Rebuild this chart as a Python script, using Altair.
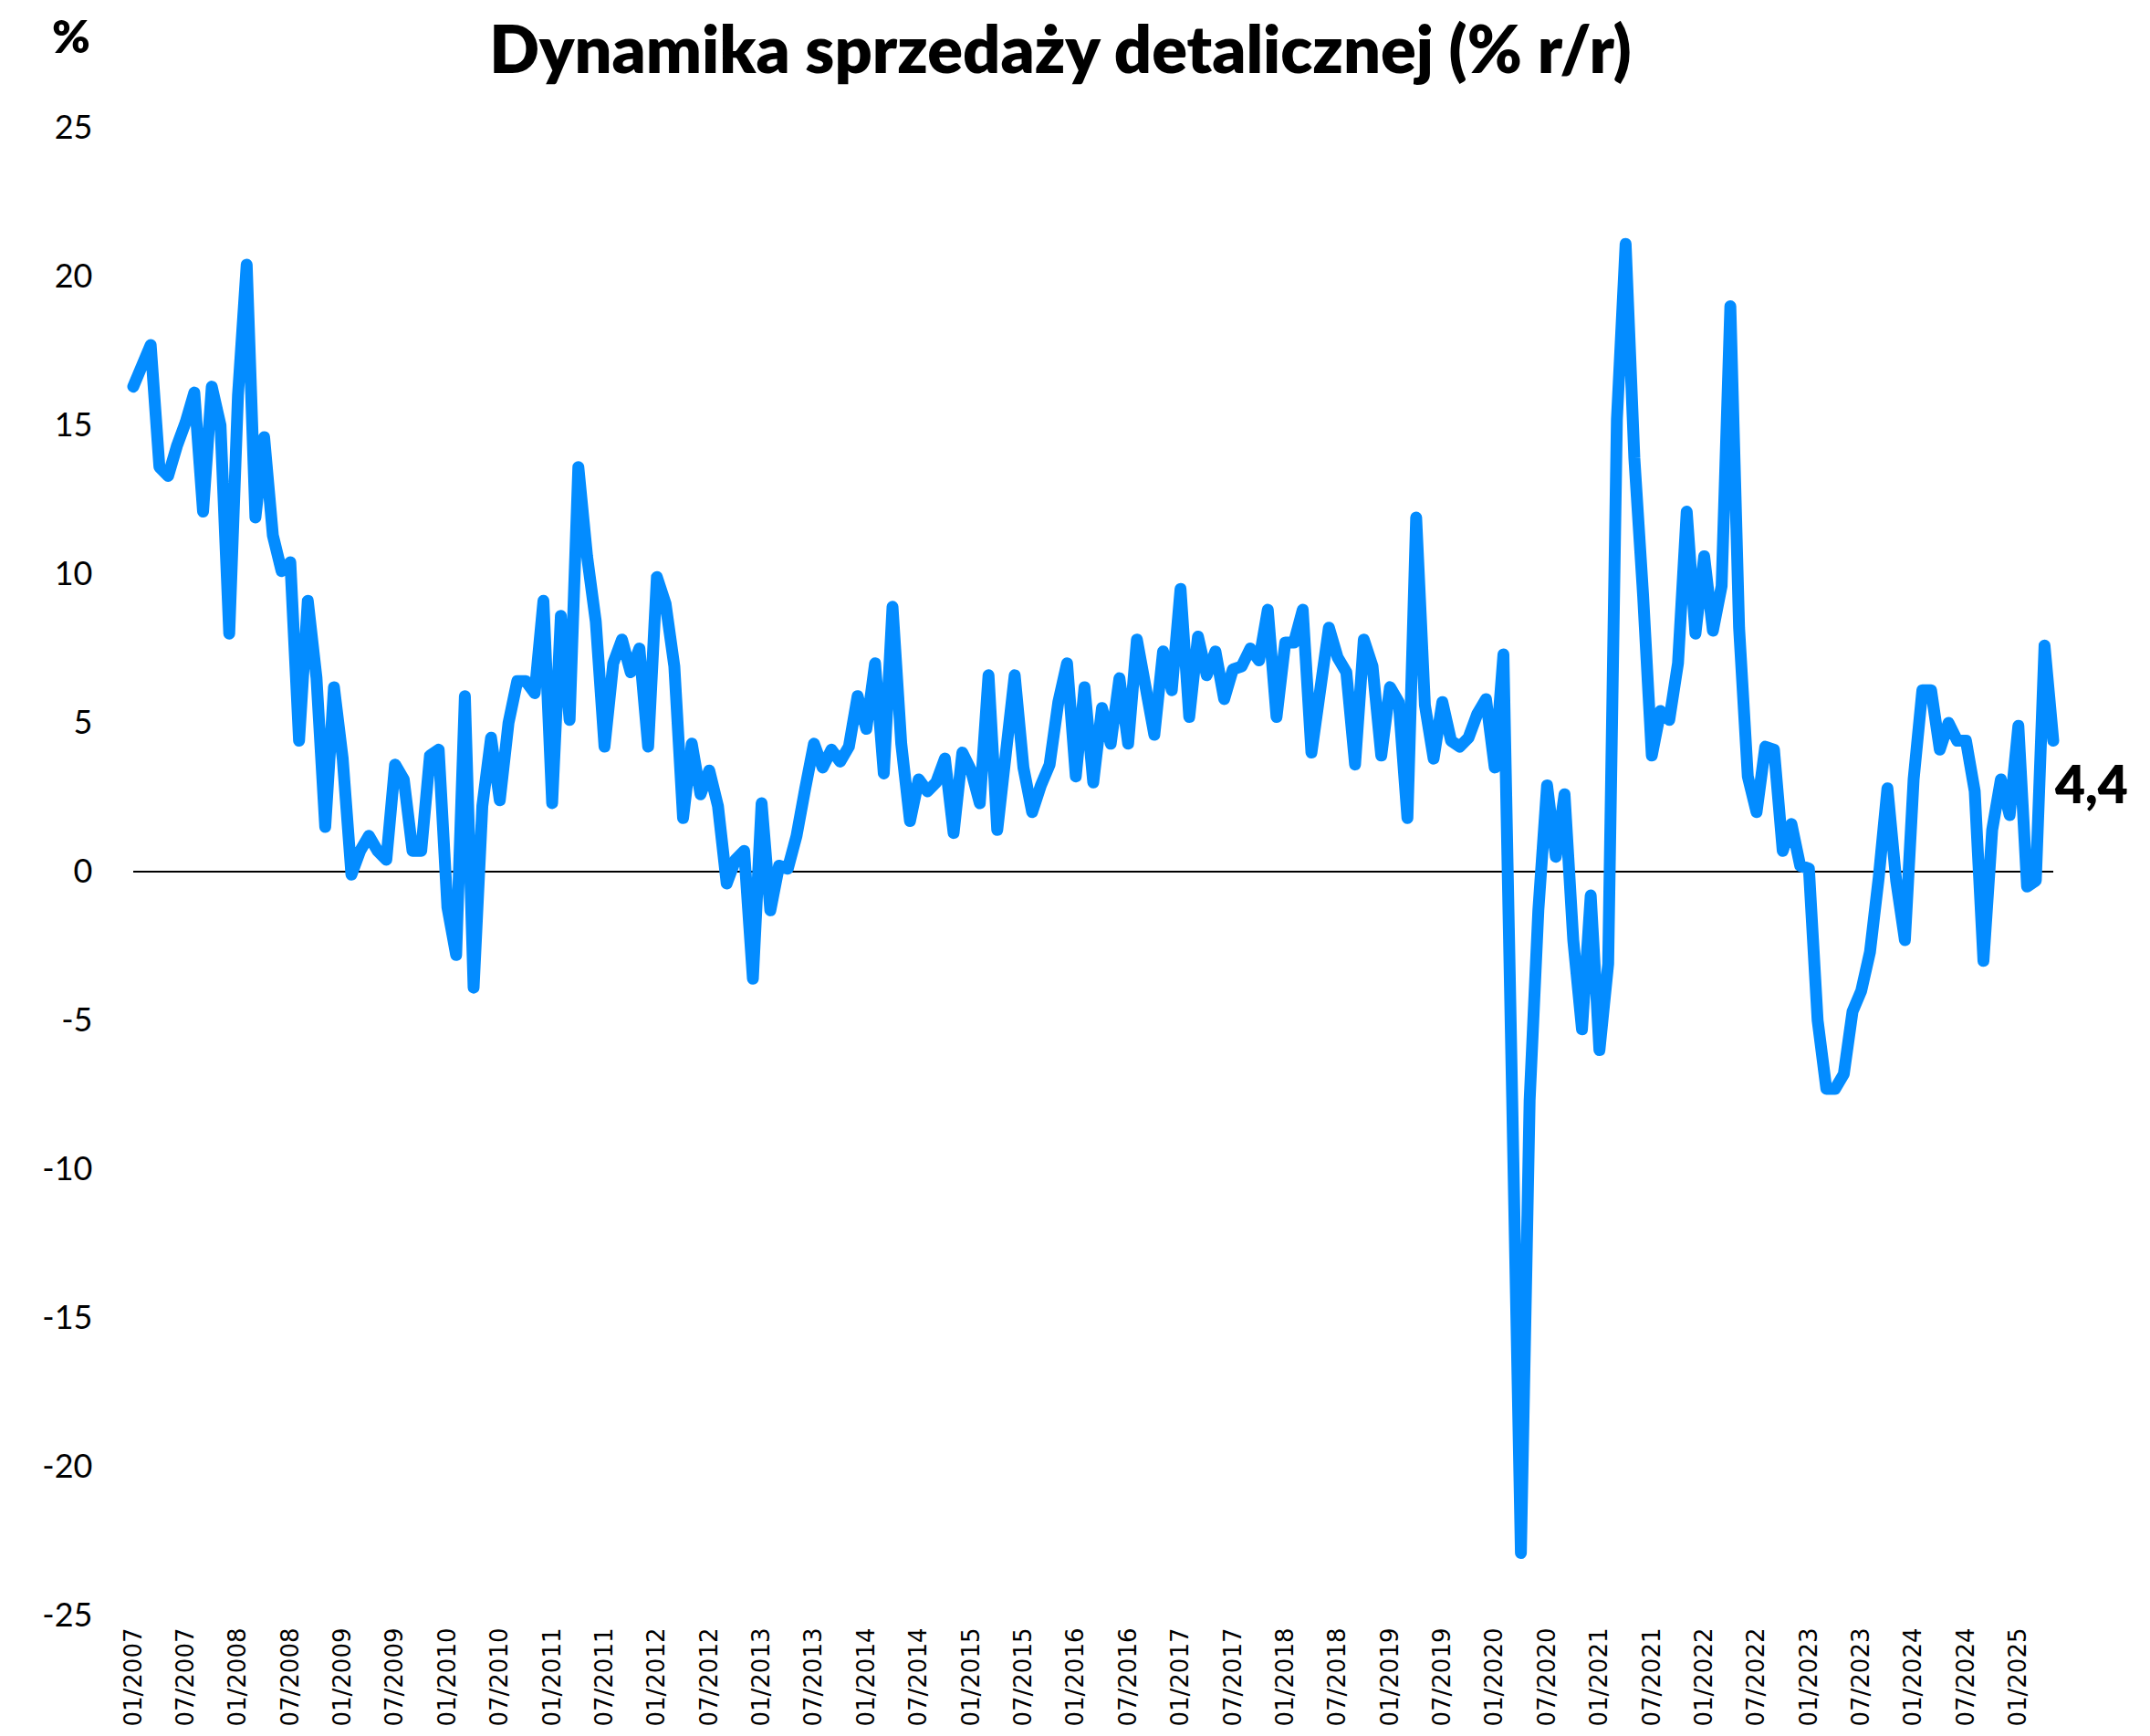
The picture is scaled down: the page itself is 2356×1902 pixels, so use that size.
import altair as alt
import pandas as pd

# Retail sales dynamics, % y/y, monthly 01/2007 - 05/2025
v2007 = [16.3, 17.0, 17.7, 13.6, 13.3, 14.3, 15.1, 16.1, 12.1, 16.3, 15.0, 8.0]
v2008 = [16.0, 20.4, 11.9, 14.6, 11.3, 10.1, 10.4, 4.4, 9.1, 6.5, 1.5, 6.2]
v2009 = [3.8, -0.1, 0.7, 1.2, 0.7, 0.4, 3.6, 3.1, 0.7, 0.7, 3.9, 4.1]
v2010 = [-1.2, -2.8, 5.9, -3.9, 2.2, 4.5, 2.4, 5.0, 6.4, 6.4, 6.0, 9.1]
v2011 = [2.3, 8.6, 5.1, 13.6, 10.6, 8.4, 4.2, 7.0, 7.8, 6.7, 7.5, 4.2]
v2012 = [9.9, 9.0, 6.9, 1.8, 4.3, 2.6, 3.4, 2.2, -0.4, 0.4, 0.7, -3.6]
v2013 = [2.3, -1.3, 0.2, 0.1, 1.2, 2.8, 4.3, 3.5, 4.1, 3.7, 4.2, 5.9]
v2014 = [4.8, 7.0, 3.3, 8.9, 4.3, 1.7, 3.1, 2.7, 3.0, 3.8, 1.3, 4.0]
v2015 = [3.4, 2.3, 6.6, 1.4, 4.0, 6.6, 3.5, 2.0, 2.9, 3.6, 5.7, 7.0]
v2016 = [3.2, 6.2, 3.0, 5.5, 4.3, 6.5, 4.3, 7.8, 6.2, 4.6, 7.4, 6.1]
v2017 = [9.5, 5.2, 7.9, 6.6, 7.4, 5.8, 6.8, 6.9, 7.5, 7.1, 8.8, 5.2]
v2018 = [7.7, 7.7, 8.8, 4.0, 6.1, 8.2, 7.2, 6.7, 3.6, 7.8, 6.9, 3.9]
v2019 = [6.2, 5.7, 1.8, 11.9, 5.6, 3.8, 5.7, 4.4, 4.2, 4.5, 5.3, 5.8]
v2020 = [3.5, 7.3, -7.6, -22.9, -7.7, -1.3, 2.9, 0.5, 2.6, -2.3, -5.3, -0.8]
v2021 = [-6.0, -3.1, 15.2, 21.1, 13.9, 9.3, 3.9, 5.4, 5.1, 7.0, 12.1, 8.0]
v2022 = [10.6, 8.1, 9.6, 19.0, 8.2, 3.2, 2.0, 4.2, 4.1, 0.7, 1.6, 0.2]
v2023 = [0.1, -5.0, -7.3, -7.3, -6.8, -4.7, -4.0, -2.7, -0.2, 2.8, -0.3, -2.3]
v2024 = [3.1, 6.1, 6.1, 4.1, 5.0, 4.4, 4.4, 2.7, -3.0, 1.4, 3.1, 1.9]
v2025 = [4.9, -0.5, -0.3, 7.6, 4.4]

values = (v2007 + v2008 + v2009 + v2010 + v2011 + v2012 + v2013 + v2014 + v2015
          + v2016 + v2017 + v2018 + v2019 + v2020 + v2021 + v2022 + v2023 + v2024 + v2025)

years = list(range(2007, 2026))
months = [f"{m:02d}/{y}" for y in years for m in range(1, 13)][:len(values)]
tick_labels = [f"{m}/{y}" for y in years for m in ("01", "07")][:37]  # 01/2007 ... 01/2025
y_ticks = [-25, -20, -15, -10, -5, 0, 5, 10, 15, 20, 25]

title_text = "Dynamika sprzedaży detalicznej (% r/r)"
unit_text = "%"

df = pd.DataFrame({"month": months, "value": values})
last = df.tail(1).copy()
last["label"] = last["value"].map(lambda v: f"{v:.1f}".replace(".", ","))

W, H = 2104, 1630
LINE_COLOR = "#038CFF"

x_enc = alt.X(
    "month:O", sort=None,
    scale=alt.Scale(type="point", padding=0, domain=months),
    axis=alt.Axis(values=tick_labels, labelAngle=-90, labelAlign="right",
                  labelBaseline="middle", labelFont="DejaVu Sans", labelFontSize=26,
                  labelColor="black", labelPadding=13, labelOverlap=False,
                  labelBound=False, domain=False, ticks=False, grid=False, title=None),
)
y_enc = alt.Y(
    "value:Q",
    scale=alt.Scale(domain=[-25, 25], nice=False, zero=False),
    axis=alt.Axis(values=y_ticks, labelExpr="'' + datum.value", labelFont="Lato",
                  labelFontSize=36, labelColor="black", labelPadding=45,
                  domain=False, ticks=False, grid=False, title=None),
)

zero = alt.Chart(pd.DataFrame({"z": [0]})).mark_rule(color="black", strokeWidth=2).encode(
    y=alt.datum(0)
)

line = alt.Chart(df).mark_line(
    color=LINE_COLOR, strokeWidth=13, strokeCap="round", strokeJoin="round"
).encode(x=x_enc, y=y_enc)

end_label = alt.Chart(last).mark_text(
    align="left", baseline="alphabetic", dx=2, dy=68, font="Lato", fontSize=57,
    fontWeight=800, color="black"
).encode(x=alt.X("month:O", sort=None), y="value:Q", text="label:N")

title = alt.Chart(pd.DataFrame({"t": [title_text]})).mark_text(
    align="center", baseline="alphabetic", font="Lato", fontSize=72,
    fontWeight=800, color="black"
).encode(x=alt.value(1016), y=alt.value(-60), text="t:N")

unit = alt.Chart(pd.DataFrame({"t": [unit_text]})).mark_text(
    align="center", baseline="alphabetic", font="Lato", fontSize=50,
    fontWeight=800, color="black"
).encode(x=alt.value(-68), y=alt.value(-82), text="t:N")

chart = alt.layer(zero, line, end_label, title, unit).properties(
    width=W, height=H,
    padding={"left": 138, "top": 132, "right": 90, "bottom": 124},
    autosize=alt.AutoSizeParams(type="none"),
    background="white",
).configure_view(stroke=None)

chart.save("out.html", embed_options={"renderer": "svg", "actions": False})
